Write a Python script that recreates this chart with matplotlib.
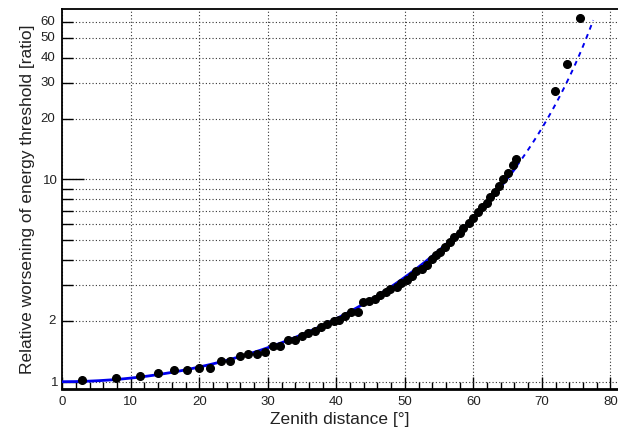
import numpy as np
import matplotlib.pyplot as plt
from matplotlib.ticker import FixedLocator, MultipleLocator, NullFormatter

plt.rcParams['font.family'] = ['Liberation Sans', 'DejaVu Sans']

# measured points: zenith distance [deg] and relative threshold ratio
zenith = [2.9, 7.8, 11.4, 14.0, 16.3, 18.2, 20.0, 21.5, 23.1, 24.5,
          25.9, 27.1, 28.4, 29.6, 30.7, 31.8, 32.9, 33.9, 35.0, 35.9,
          36.9, 37.8, 38.7, 39.6, 40.4, 41.3, 42.2, 43.1, 43.9, 44.8,
          45.6, 46.4, 47.2, 47.9, 48.8, 49.5, 50.3, 51.0, 51.7, 52.5,
          53.2, 53.9, 54.6, 55.2, 55.9, 56.6, 57.2, 58.0, 58.5, 59.3,
          60.0, 60.7, 61.3, 62.0, 62.5, 63.2, 63.8, 64.4, 65.1, 65.8,
          66.3, 71.9, 73.7, 75.5]
ratio = [1.016, 1.039, 1.071, 1.108, 1.143, 1.143, 1.173, 1.169, 1.27, 1.27,
         1.34, 1.375, 1.375, 1.40, 1.50, 1.50, 1.60, 1.61, 1.68, 1.746,
         1.78, 1.87, 1.93, 2.0, 2.03, 2.11, 2.21, 2.20, 2.48, 2.50,
         2.57, 2.69, 2.78, 2.86, 2.95, 3.09, 3.18, 3.33, 3.54, 3.62,
         3.79, 4.03, 4.22, 4.39, 4.65, 4.92, 5.17, 5.45, 5.77, 6.07,
         6.43, 6.92, 7.32, 7.67, 8.15, 8.7, 9.3, 10.0, 10.8, 11.8,
         12.55, 27.5, 37.2, 63.0]

fit_max = 66.3    # fit range end (solid part)
extrap_max = 77.5  # dashed extrapolation end

yticks = [1, 2, 10, 20, 30, 40, 50, 60]

z = np.array(zenith)
r = np.array(ratio)

# fit ratio = 1/cos(z)^n on the points inside the fit range
sel = z <= fit_max
u = -np.log(np.cos(np.radians(z[sel])))
v = np.log(r[sel])
n = np.sum(u * v) / np.sum(u * u)


def model(x):
    return np.cos(np.radians(x)) ** (-n)


fig = plt.figure(figsize=(6.18, 4.29), dpi=100)
ax = fig.add_axes([0.1008, 0.0925, 0.8992, 0.8865])

xs = np.linspace(0, fit_max, 300)
xe = np.linspace(fit_max, extrap_max, 100)
ax.plot(xs, model(xs), color='#0000ee', lw=2.0, zorder=3)
ax.plot(xe, model(xe), color='#0000ee', lw=1.4, ls=(0, (2.5, 2.5)), zorder=3)
ax.plot(z, r, 'o', color='black', ms=5.5, zorder=4)

ax.set_yscale('log')
ax.set_xlim(0, 81.12)
ax.set_ylim(0.917, 69.6)

ax.xaxis.set_major_locator(MultipleLocator(10))
ax.xaxis.set_minor_locator(MultipleLocator(2))
ax.yaxis.set_major_locator(FixedLocator([1, 10]))
ax.yaxis.set_minor_locator(FixedLocator([2, 3, 4, 5, 6, 7, 8, 9, 20, 30, 40, 50, 60]))
ax.yaxis.set_minor_formatter(NullFormatter())
ax.set_yticks([1, 10])
ax.set_yticklabels(['1', '10'])
for t in yticks:
    if t not in (1, 10):
        ax.text(-1.0, t, str(t), ha='right', va='center', fontsize=9.5, color='#222222')

ax.grid(True, which='major', axis='x', color='#333333', ls=(0, (1, 2)), lw=0.8)
ax.grid(True, which='both', axis='y', color='#333333', ls=(0, (1, 2)), lw=0.8)
ax.set_axisbelow(True)

ax.tick_params(axis='both', which='both', direction='in', labelsize=9.5,
               labelcolor='#222222', top=False, right=False, width=1.0)
ax.tick_params(axis='x', which='major', length=9, pad=5)
ax.tick_params(axis='x', which='minor', length=5)
ax.tick_params(axis='y', which='major', length=16, pad=3)
ax.tick_params(axis='y', which='minor', length=8)

ax.spines['right'].set_visible(False)
ax.spines['bottom'].set_linewidth(2.0)
ax.spines['left'].set_linewidth(1.3)
ax.spines['top'].set_linewidth(1.3)

ax.set_xlabel('Zenith distance [°]', fontsize=12.5, labelpad=3, color='#222222')
ax.set_ylabel('Relative worsening of energy threshold [ratio]', fontsize=12.5,
              labelpad=6, color='#222222')

fig.savefig('out.png', dpi=100)
